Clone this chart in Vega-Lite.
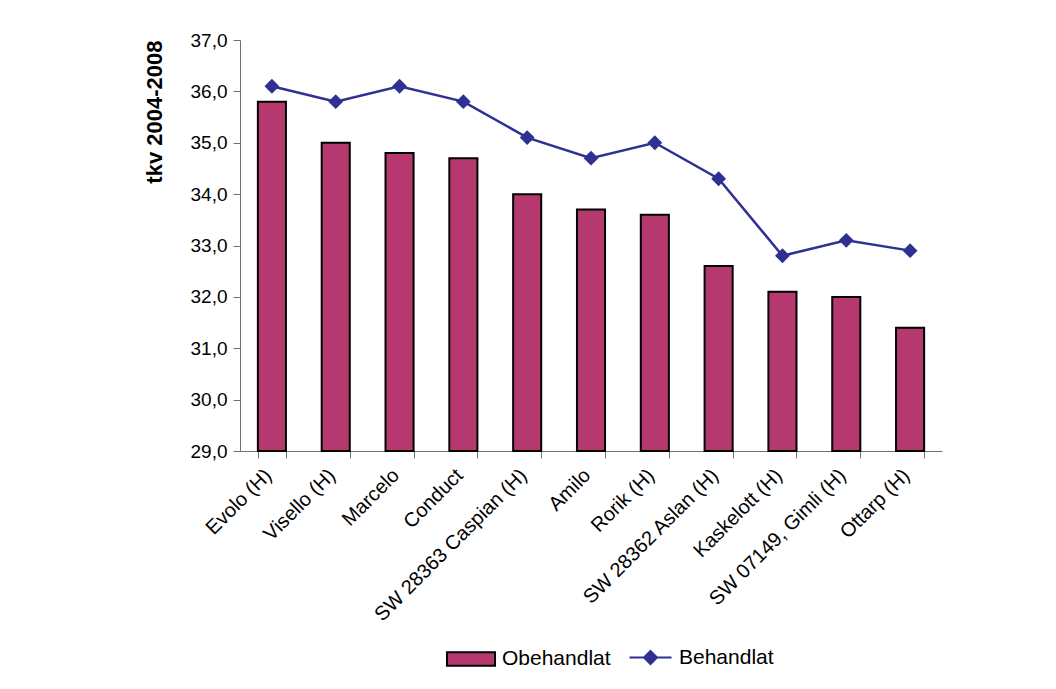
{
  "$schema": "https://vega.github.io/schema/vega-lite/v6.json",
  "width": 702,
  "height": 411,
  "autosize": {"type": "none"},
  "padding": {"left": 240, "top": 40, "right": 114, "bottom": 238},
  "background": "white",
  "config": {
    "locale": {"number": {"decimal": ",", "thousands": " ", "grouping": [3], "currency": ["", " kr"]}},
    "font": "Liberation Sans",
    "view": {"stroke": null},
    "axis": {"labelFont": "Liberation Sans", "titleFont": "Liberation Sans", "labelColor": "black", "titleColor": "black", "domainColor": "#707070", "tickColor": "#707070", "grid": false}
  },
  "data": {
    "values": [
      {"sort": "Evolo (H)", "Obehandlat": 35.8, "Behandlat": 36.1},
      {"sort": "Visello (H)", "Obehandlat": 35.0, "Behandlat": 35.8},
      {"sort": "Marcelo", "Obehandlat": 34.8, "Behandlat": 36.1},
      {"sort": "Conduct", "Obehandlat": 34.7, "Behandlat": 35.8},
      {"sort": "SW 28363 Caspian (H)", "Obehandlat": 34.0, "Behandlat": 35.1},
      {"sort": "Amilo", "Obehandlat": 33.7, "Behandlat": 34.7},
      {"sort": "Rorik (H)", "Obehandlat": 33.6, "Behandlat": 35.0},
      {"sort": "SW 28362 Aslan (H)", "Obehandlat": 32.6, "Behandlat": 34.3},
      {"sort": "Kaskelott (H)", "Obehandlat": 32.1, "Behandlat": 32.8},
      {"sort": "SW 07149, Gimli (H)", "Obehandlat": 32.0, "Behandlat": 33.1},
      {"sort": "Ottarp (H)", "Obehandlat": 31.4, "Behandlat": 32.9}
    ]
  },
  "encoding": {
    "x": {
      "field": "sort", "type": "nominal", "sort": null,
      "scale": {"paddingInner": 0.56, "paddingOuter": 0.28},
      "axis": {"title": null, "labelAngle": -45, "labelAlign": "right", "labelBaseline": "middle", "labelFontSize": 20, "labelPadding": 14, "labelOffset": -4, "tickBand": "extent", "tickSize": 7, "labelLimit": 400}
    }
  },
  "layer": [
    {
      "mark": {"type": "bar", "stroke": "black", "strokeWidth": 2},
      "encoding": {
        "y": {
          "field": "Obehandlat", "type": "quantitative",
          "scale": {"domain": [29, 37], "nice": false, "zero": false},
          "axis": {"title": "tkv 2004-2008", "titleFontSize": 22, "titleFontWeight": "bold", "titlePadding": 24, "titleAnchor": "end", "format": ".1f", "values": [29, 30, 31, 32, 33, 34, 35, 36, 37], "labelFontSize": 19, "tickSize": 7, "labelPadding": 6}
        },
        "y2": {"datum": 29},
        "fill": {
          "datum": "Obehandlat",
          "scale": {"range": ["#B5386F"]},
          "legend": {"title": null, "orient": "none", "legendX": 215, "legendY": 603, "labelFontSize": 21, "labelFont": "Liberation Sans", "labelColor": "black", "symbolType": "M-1.6,-0.45L1.6,-0.45L1.6,0.45L-1.6,0.45Z", "symbolSize": 900, "symbolStrokeColor": "black", "symbolStrokeWidth": 2, "labelOffset": 15}
        }
      }
    },
    {
      "mark": {"type": "line", "strokeWidth": 2.5},
      "encoding": {
        "y": {"field": "Behandlat", "type": "quantitative"},
        "stroke": {
          "datum": "Behandlat",
          "scale": {"range": ["#2E3192"]},
          "legend": {"title": null, "orient": "none", "legendX": 396, "legendY": 603, "labelFontSize": 21, "labelFont": "Liberation Sans", "labelColor": "black", "symbolType": "M-1.6,0L1.6,0M0,-0.5L0.5,0L0,0.5L-0.5,0Z", "symbolSize": 690, "symbolFillColor": "#2E3192", "symbolStrokeWidth": 2, "labelOffset": 14}
        }
      }
    },
    {
      "mark": {"type": "point", "shape": "diamond", "filled": true, "color": "#2E3192", "size": 220, "opacity": 1},
      "encoding": {
        "y": {"field": "Behandlat", "type": "quantitative"}
      }
    }
  ]
}
